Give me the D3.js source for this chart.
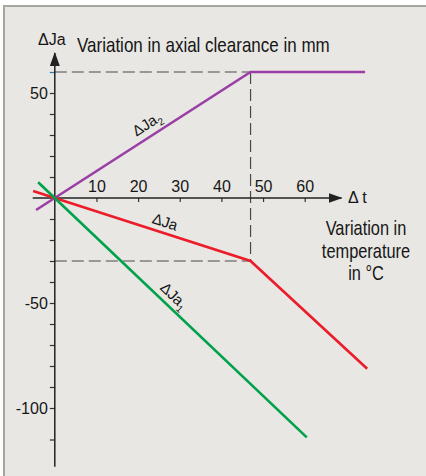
<!DOCTYPE html>
<html lang="en">
<head>
    <title>Axial clearance</title>
    <script src="https://d3js.org/d3.v7.min.js" charset="utf-8"></script>
    <style type="text/css">
        body
        {
            margin: 0;
            background-color: #ffffff;
        }
        svg
        {
            display: block;
        }
        text
        {
            font-family: "Liberation Sans Narrow", "Arial Narrow", "Liberation Sans", sans-serif;
            fill: #161616;
        }
    </style>
</head>
<body>
    <div id="chart_div"></div>
    <script>
    "use strict";
    var svg_width = 426;
    var svg_height = 476;

    // values (t in degC, clearance in mm)
    var x_ticks = [10, 20, 30, 40, 50, 60];
    var y_labels = [50, -50, -100];
    var y_minor = [60, 40, 30, 20, 10, -10, -20, -30, -40, -60, -70, -80, -90, -115];
    var ja2_t = [-4.5, 47, 74.5];
    var ja2_v = [-5.7, 60, 60];
    var ja_t = [-5.2, 0, 47, 75];
    var ja_v = [3.3, 0, -30, -81.3];
    var ja1_t = [-4, 60.5];
    var ja1_v = [7.5, -114];
    var break_t = 47;
    var top_v = 60;
    var break_v = -30;

    var x = d3.scaleLinear().domain([0, 60]).range([54.8, 304.7]);
    var y = d3.scaleLinear().domain([0, 50]).range([198, 93]);
    var squeeze = 0.82; // the original uses a condensed face

    var svg = d3.select("#chart_div")
        .append("svg")
        .attr("width", svg_width)
        .attr("height", svg_height);

    // panel
    svg.append("rect")
        .attr("x", 4).attr("y", 6)
        .attr("width", svg_width).attr("height", svg_height)
        .attr("fill", "#e8e7e3");
    svg.append("path")
        .attr("d", "M4," + svg_height + "V6H" + svg_width)
        .attr("fill", "none")
        .attr("stroke", "#a4a79f")
        .attr("stroke-width", 2);

    var defs = svg.append("defs");
    defs.append("marker")
        .attr("id", "arrow")
        .attr("viewBox", "0 0 14 10")
        .attr("refX", 13).attr("refY", 5)
        .attr("markerWidth", 14).attr("markerHeight", 10)
        .attr("markerUnits", "userSpaceOnUse")
        .attr("orient", "auto")
        .append("path")
        .attr("d", "M0,0L14,5L0,10Z")
        .attr("fill", "#222");

    // dashed guides
    var guides = [
        [[0, top_v], [break_t, top_v]],
        [[break_t, top_v], [break_t, break_v]],
        [[0, break_v], [break_t, break_v]]
    ];
    svg.selectAll(".guide")
        .data(guides)
        .enter()
        .append("line")
        .attr("class", "guide")
        .attr("x1", function(d) { return x(d[0][0]); })
        .attr("y1", function(d) { return y(d[0][1]); })
        .attr("x2", function(d) { return x(d[1][0]); })
        .attr("y2", function(d) { return y(d[1][1]); })
        .attr("stroke", "#4a4a4a")
        .attr("stroke-width", 1.2)
        .attr("stroke-dasharray", "12,5");

    // axes
    var x_axis = d3.axisBottom(x)
        .tickValues(x_ticks)
        .tickSize(4)
        .tickFormat("");
    var gx = svg.append("g")
        .attr("transform", "translate(0," + y(0) + ")")
        .call(x_axis);
    gx.select(".domain").remove();
    gx.selectAll(".tick line").attr("stroke", "#333").attr("stroke-width", 1.2);
    gx.selectAll(".tick")
        .append("text")
        .attr("y", -6)
        .attr("text-anchor", "middle")
        .style("font-size", "16px")
        .style("fill", "#161616")
        .text(function(d) { return d; });

    var y_axis = d3.axisLeft(y)
        .tickValues(y_labels.concat(y_minor))
        .tickSize(5)
        .tickFormat(function(d) { return y_labels.indexOf(d) >= 0 ? d : ""; });
    var gy = svg.append("g")
        .attr("transform", "translate(" + x(0) + ",0)")
        .call(y_axis);
    gy.select(".domain").remove();
    gy.selectAll(".tick line").attr("stroke", "#333").attr("stroke-width", 1.2);
    gy.selectAll(".tick").filter(function(d) { return d == top_v; })
        .select("line").attr("stroke", "#2a7fb0");
    gy.selectAll(".tick text")
        .attr("x", -7)
        .style("font-size", "16px")
        .style("font-family", "\"Liberation Sans Narrow\", \"Arial Narrow\", \"Liberation Sans\", sans-serif")
        .style("fill", "#161616");

    svg.append("line")
        .attr("x1", x(-5.3)).attr("y1", y(0))
        .attr("x2", 341.5).attr("y2", y(0))
        .attr("stroke", "#222").attr("stroke-width", 1.5)
        .attr("marker-end", "url(#arrow)");
    svg.append("line")
        .attr("x1", x(0)).attr("y1", 466.7)
        .attr("x2", x(0)).attr("y2", 53)
        .attr("stroke", "#222").attr("stroke-width", 1.5)
        .attr("marker-end", "url(#arrow)");

    // curves
    var line = d3.line()
        .x(function(d) { return x(d[0]); })
        .y(function(d) { return y(d[1]); });
    var series = [
        { t: ja2_t, v: ja2_v, color: "#9a3fa5" },
        { t: ja_t, v: ja_v, color: "#ec1c2a" },
        { t: ja1_t, v: ja1_v, color: "#00a14b" }
    ];
    svg.selectAll(".curve")
        .data(series)
        .enter()
        .append("path")
        .attr("class", "curve")
        .attr("d", function(s) { return line(d3.zip(s.t, s.v)); })
        .attr("fill", "none")
        .attr("stroke", function(s) { return s.color; })
        .attr("stroke-width", 2.6);

    // titles
    svg.append("text")
        .attr("x", 38).attr("y", 45)
        .style("font-size", "16px")
        .text("\u0394Ja");
    svg.append("text")
        .attr("transform", "translate(77,52) scale(0.85,1)")
        .style("font-size", "20px")
        .text("Variation in axial clearance in mm");
    svg.append("text")
        .attr("x", 348).attr("y", 203)
        .style("font-size", "16px")
        .text("\u0394 t");

    var temp_lines = ["Variation in", "temperature", "in \u00b0C"];
    svg.selectAll(".temp")
        .data(temp_lines)
        .enter()
        .append("text")
        .attr("class", "temp")
        .attr("transform", function(d, i) { return "translate(366," + (235 + i * 22.7) + ") scale(" + squeeze + ",1)"; })
        .attr("text-anchor", "middle")
        .style("font-size", "20px")
        .text(function(d) { return d; });

    // line labels along the curves
    var labels = [
        { cx: 147, cy: 124, angle: -32.7, sub: "2" },
        { cx: 165, cy: 222, angle: 17.7, sub: "" },
        { cx: 174, cy: 296, angle: 43.4, sub: "1" }
    ];
    labels.forEach(function(l)
    {
        var t = svg.append("text")
            .attr("text-anchor", "middle")
            .attr("transform", "translate(" + l.cx + "," + l.cy + ") rotate(" + l.angle + ")")
            .attr("y", 5)
            .style("font-size", "15px");
        t.append("tspan").text("\u0394Ja");
        if (l.sub)
        {
            t.append("tspan").attr("dy", 4).style("font-size", "10px").text(l.sub);
        }
    });
    </script>
</body>
</html>
